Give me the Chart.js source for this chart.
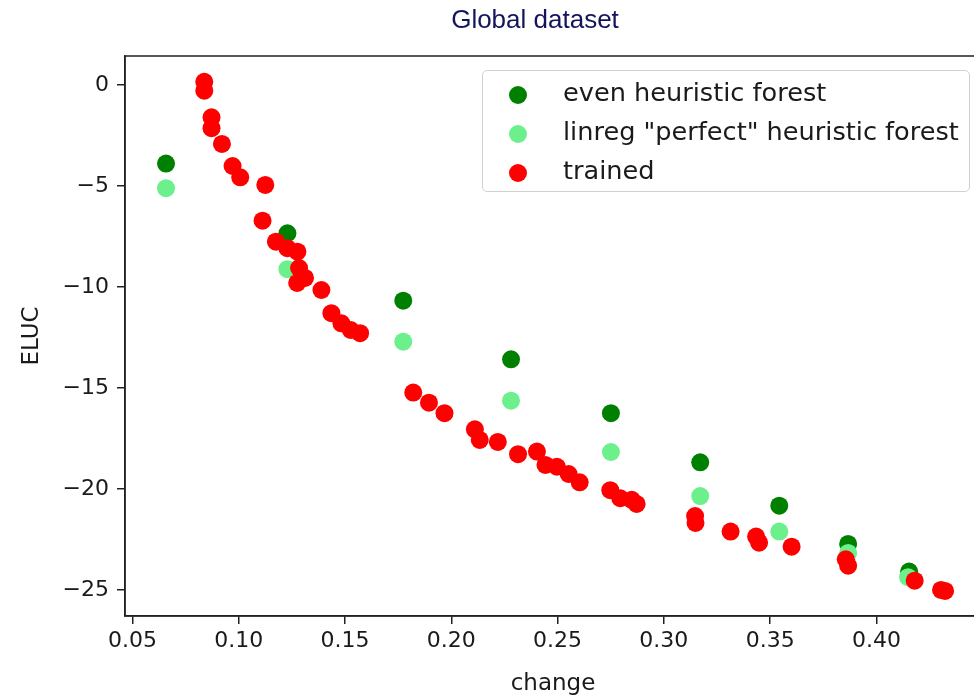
<!DOCTYPE html>
<html>
<head>
<meta charset="utf-8">
<script src="https://cdn.jsdelivr.net/npm/chart.js@4.4.1/dist/chart.umd.min.js"></script>
<style>
  html, body { margin: 0; padding: 0; background: #fff; overflow: hidden; }
  #wrap { position: relative; width: 974px; height: 698px; overflow: hidden; }
  #chart-box { position: absolute; left: 0; top: 0; width: 990px; height: 698px; }
  #title { position: absolute; top: 4px; left: 0; width: 1070px; text-align: center;
           font: 26px 'Liberation Sans', Arial, sans-serif; color: #14145a; }
  #legend { position: absolute; left: 482px; top: 70px; width: 488px; height: 122px;
            box-sizing: border-box; border: 1px solid #d0d0d0; border-radius: 5px;
            background: rgba(255,255,255,0.8); font: 25.6px 'DejaVu Sans', sans-serif; color: #1a1a1a; }
  .row { position: absolute; left: 0; height: 30px; line-height: 30px; white-space: nowrap; }
  .dot { position: absolute; left: 26px; top: 6px; width: 18px; height: 18px; border-radius: 50%; }
  .lbl { position: absolute; left: 80px; top: -3px; }
</style>
</head>
<body>
<div id="wrap">
  <div id="chart-box"><canvas id="chart"></canvas></div>
  <div id="title">Global dataset</div>
  <div id="legend"></div>
</div>
<script>
// Series labels and colours
const seriesLabels = ['even heuristic forest', 'linreg "perfect" heuristic forest', 'trained'];
const seriesColors = ['#008000', '#6cf08c', '#ff0000'];

// Axis ticks
const xTicks = [0.05, 0.10, 0.15, 0.20, 0.25, 0.30, 0.35, 0.40];
const yTicks = [0, -5, -10, -15, -20, -25];

// even heuristic forest
const evenX = [0.0658, 0.1229, 0.1774, 0.2281, 0.2751, 0.3171, 0.3543, 0.3867, 0.4154];
const evenY = [-3.89, -7.34, -10.68, -13.58, -16.25, -18.68, -20.83, -22.72, -24.09];

// linreg "perfect" heuristic forest
const linregX = [0.0658, 0.1229, 0.1774, 0.2281, 0.2751, 0.3171, 0.3543, 0.3867, 0.4149];
const linregY = [-5.11, -9.12, -12.71, -15.63, -18.17, -20.35, -22.11, -23.17, -24.37];

// trained
const trainedX = [0.0838, 0.0838, 0.0872, 0.0872, 0.0921, 0.0971, 0.1007, 0.1125, 0.1112, 0.1175,
                  0.1229, 0.1276, 0.1284, 0.1275, 0.1312, 0.1389, 0.1436, 0.1483, 0.1527, 0.1571,
                  0.1821, 0.1895, 0.1968, 0.2111, 0.2134, 0.2219, 0.2314, 0.2403, 0.2443, 0.2497,
                  0.2552, 0.2604, 0.2748, 0.2795, 0.2849, 0.2872, 0.3147, 0.3149, 0.3314, 0.3434,
                  0.3448, 0.3601, 0.3856, 0.3867, 0.4180, 0.4304, 0.4323];
const trainedY = [0.16, -0.28, -1.60, -2.14, -2.92, -4.01, -4.57, -4.95, -6.72, -7.76,
                  -8.08, -8.25, -9.06, -9.80, -9.55, -10.15, -11.30, -11.80, -12.13, -12.29,
                  -15.23, -15.73, -16.25, -17.05, -17.57, -17.67, -18.28, -18.15, -18.81, -18.90,
                  -19.26, -19.67, -20.06, -20.46, -20.54, -20.74, -21.34, -21.68, -22.11, -22.36,
                  -22.66, -22.86, -23.48, -23.80, -24.54, -25.00, -25.05];

const toPoints = (xs, ys) => xs.map((x, i) => ({ x: x, y: ys[i] }));

const tickFont = { family: 'DejaVu Sans', size: 22 };
const textColor = '#1a1a1a';
const axisColor = '#222';

// draws the box round the plot area
const framePlugin = {
  id: 'frame',
  beforeDatasetsDraw(chart) {
    const { ctx, chartArea: a } = chart;
    ctx.save();
    ctx.strokeStyle = axisColor;
    ctx.lineWidth = 1.5;
    ctx.strokeRect(a.left, a.top, a.right - a.left, a.bottom - a.top);
    ctx.restore();
  }
};

const dataset = (i, xs, ys, order) => ({
  label: seriesLabels[i],
  data: toPoints(xs, ys),
  backgroundColor: seriesColors[i],
  borderWidth: 0,
  pointRadius: 9,
  pointHoverRadius: 9,
  order: order
});

new Chart(document.getElementById('chart'), {
  type: 'scatter',
  data: {
    datasets: [
      dataset(0, evenX, evenY, 2),
      dataset(1, linregX, linregY, 1),
      dataset(2, trainedX, trainedY, 0)
    ]
  },
  options: {
    responsive: true,
    maintainAspectRatio: false,
    devicePixelRatio: 1,
    animation: false,
    events: [],
    layout: { padding: { top: 56, right: 7, left: 0, bottom: 0 } },
    plugins: {
      legend: { display: false },
      tooltip: { enabled: false }
    },
    scales: {
      x: {
        type: 'linear',
        min: 0.0465,
        max: 0.4492,
        afterBuildTicks: s => { s.ticks = xTicks.map(v => ({ value: v })); },
        afterFit: s => { s.height = 82; },
        ticks: {
          font: tickFont, color: textColor, padding: 4,
          maxRotation: 0, autoSkip: false,
          callback: v => v.toFixed(2)
        },
        grid: { drawOnChartArea: false, tickLength: 8, color: axisColor, lineWidth: 1.5 },
        border: { color: axisColor, width: 1.5 },
        title: { display: true, text: 'change', color: textColor,
                 font: { family: 'DejaVu Sans', size: 23 }, padding: { top: 0, bottom: 0 } }
      },
      y: {
        type: 'linear',
        min: -26.29,
        max: 1.436,
        afterBuildTicks: s => { s.ticks = yTicks.map(v => ({ value: v })); },
        afterFit: s => { s.width = 125; },
        ticks: {
          font: tickFont, color: textColor, padding: 8,
          callback: v => (v < 0 ? '\u2212' + Math.abs(v) : String(v))
        },
        grid: { drawOnChartArea: false, tickLength: 8, color: axisColor, lineWidth: 1.5 },
        border: { color: axisColor, width: 1.5 },
        title: { display: true, text: 'ELUC', color: textColor,
                 font: { family: 'DejaVu Sans', size: 23 }, padding: { top: 18, bottom: 0 } }
      }
    }
  },
  plugins: [framePlugin]
});

// legend built from the same labels and colours
const legend = document.getElementById('legend');
const rowTops = [9, 48, 87];
seriesLabels.forEach((label, i) => {
  const row = document.createElement('div');
  row.className = 'row';
  row.style.top = rowTops[i] + 'px';
  const dot = document.createElement('span');
  dot.className = 'dot';
  dot.style.background = seriesColors[i];
  const txt = document.createElement('span');
  txt.className = 'lbl';
  txt.textContent = label;
  row.appendChild(dot);
  row.appendChild(txt);
  legend.appendChild(row);
});
</script>
</body>
</html>
